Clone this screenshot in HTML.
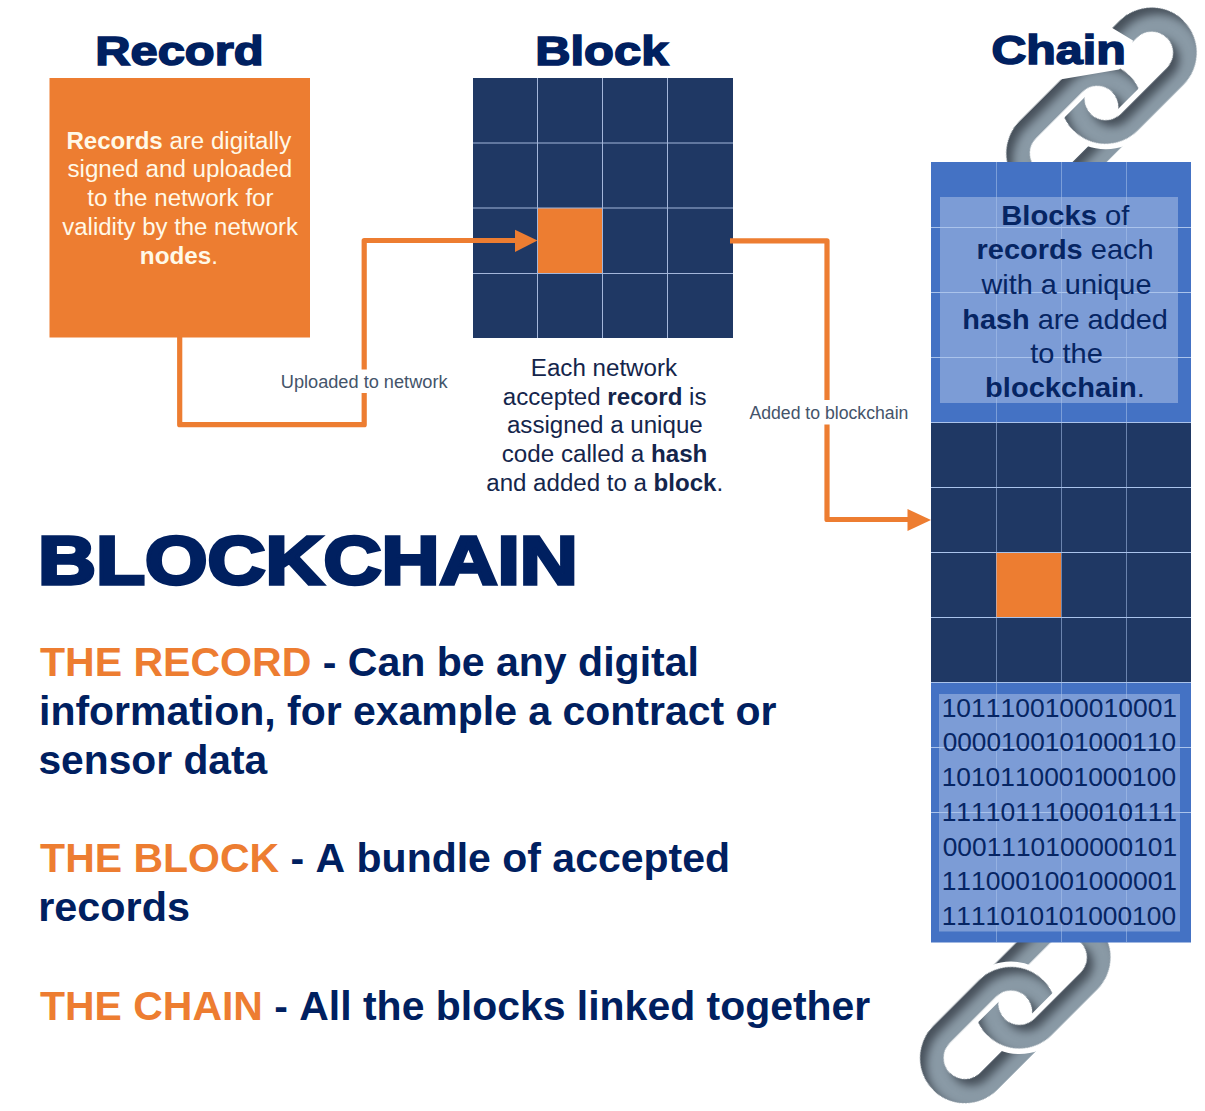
<!DOCTYPE html>
<html><head><meta charset="utf-8">
<style>
html,body{margin:0;padding:0;background:#fff;width:1205px;height:1111px;overflow:hidden}
svg{display:block}
text{font-family:"Liberation Sans",sans-serif;font-kerning:none}
</style></head><body>
<svg width="1205" height="1111" viewBox="0 0 1205 1111">
<defs>
<path id="lkA" d="M712,806.7 L777,806.7 A45,45 0 0 1 777,896.7 L712,896.7 A45,45 0 0 1 712,806.7 Z M712,830.2 L777,830.2 A21.5,21.5 0 0 1 777,873.2 L712,873.2 A21.5,21.5 0 0 1 712,830.2 Z" fill-rule="evenodd"/>
<path id="lkB" d="M635,806.7 L700,806.7 A45,45 0 0 1 700,896.7 L635,896.7 A45,45 0 0 1 635,806.7 Z M635,830.2 L700,830.2 A21.5,21.5 0 0 1 700,873.2 L635,873.2 A21.5,21.5 0 0 1 635,830.2 Z" fill-rule="evenodd"/>
<filter id="sh" x="-30%" y="-30%" width="160%" height="160%" color-interpolation-filters="sRGB">
 <feOffset in="SourceAlpha" dx="0" dy="9" result="off"/>
 <feGaussianBlur in="off" stdDeviation="4.5" result="blur"/>
 <feComposite in="SourceAlpha" in2="blur" operator="out" result="inv"/>
 <feFlood flood-color="#3F4852" flood-opacity="0.9"/>
 <feComposite in2="inv" operator="in" result="shadow"/>
 <feMerge><feMergeNode in="SourceGraphic"/><feMergeNode in="shadow"/></feMerge>
</filter>
<mask id="mTop" maskUnits="userSpaceOnUse" x="400" y="600" width="600" height="500"><rect x="400" y="600" width="600" height="251.70000000000005" fill="#fff"/></mask>
<mask id="mBot" maskUnits="userSpaceOnUse" x="400" y="600" width="600" height="500"><rect x="400" y="851.7" width="600" height="400" fill="#fff"/></mask>
<g id="chainG" transform="matrix(0.70711 -0.70711 0.70711 0.70711 0 0)">
 <use href="#lkB" fill="#8A9AA6" filter="url(#sh)"/>
 <use href="#lkA" fill="#8A9AA6" filter="url(#sh)"/>
 <g mask="url(#mBot)">
  <use href="#lkB" fill="#8A9AA6" filter="url(#sh)"/>
  <use href="#lkA" fill="none" stroke="#fff" stroke-width="11.0"/>
  <use href="#lkA" fill="#8A9AA6" filter="url(#sh)"/>
 </g>
 <g mask="url(#mTop)">
  <use href="#lkA" fill="#8A9AA6" filter="url(#sh)"/>
  <use href="#lkB" fill="none" stroke="#fff" stroke-width="11.0"/>
  <use href="#lkB" fill="#8A9AA6" filter="url(#sh)"/>
 </g>
</g>
</defs>
<use href="#chainG"/>
<polygon points="1111.5,27.5 1133,40.5 1128,62 1119,69.5 1060,79.5 1045,79 1045,22 1100,18" fill="#fff"/>
<use href="#chainG" transform="translate(-86.2 904.7)"/>
<rect x="49.5" y="78" width="260.5" height="259.5" fill="#ED7D31"/>
<rect x="473" y="78" width="260" height="260" fill="#1F3864"/>
<rect x="538" y="208" width="65" height="65" fill="#ED7D31"/>
<g stroke="#A3B6DA" stroke-width="1">
<line x1="537.5" y1="78" x2="537.5" y2="338"/>
<line x1="602.5" y1="78" x2="602.5" y2="338"/>
<line x1="667.5" y1="78" x2="667.5" y2="338"/>
<line x1="473" y1="143" x2="733" y2="143"/>
<line x1="473" y1="208" x2="733" y2="208"/>
<line x1="473" y1="273.5" x2="733" y2="273.5"/>
</g>
<rect x="931" y="162" width="260" height="260" fill="#4472C4"/>
<rect x="931" y="422" width="260" height="260" fill="#1F3864"/>
<rect x="931" y="682" width="260" height="260.5" fill="#4472C4"/>
<rect x="996" y="552" width="65" height="65" fill="#ED7D31"/>

<rect x="940" y="197" width="238" height="206" fill="#fff" fill-opacity="0.3"/>
<rect x="939" y="694" width="241" height="237.5" fill="#fff" fill-opacity="0.3"/>
<g stroke="#AAC3EB" stroke-width="1" stroke-opacity="0.55">
<line x1="996.5" y1="162" x2="996.5" y2="942"/>
<line x1="1061.5" y1="162" x2="1061.5" y2="942"/>
<line x1="1126.5" y1="162" x2="1126.5" y2="942"/>
</g>
<g stroke="#AAC3EB" stroke-width="1">
<line x1="931" y1="227.5" x2="1191" y2="227.5"/>
<line x1="931" y1="292.5" x2="1191" y2="292.5"/>
<line x1="931" y1="357.5" x2="1191" y2="357.5"/>
<line x1="931" y1="422.5" x2="1191" y2="422.5"/>
<line x1="931" y1="487.5" x2="1191" y2="487.5"/>
<line x1="931" y1="552.5" x2="1191" y2="552.5"/>
<line x1="931" y1="617.5" x2="1191" y2="617.5"/>
<line x1="931" y1="682.5" x2="1191" y2="682.5"/>
<line x1="931" y1="747.5" x2="1191" y2="747.5"/>
<line x1="931" y1="812.5" x2="1191" y2="812.5"/>
</g>
<g fill="none" stroke="#ED7D31" stroke-width="5.2" stroke-linejoin="round">
<path d="M179.7,337 V424.7 H364.2 V240.5 H516"/>
<path d="M730,240.8 H827 V519.5 H909"/>
</g>
<polygon points="515,229.7 537.5,240.5 515,252" fill="#ED7D31"/>
<polygon points="907.5,508.9 931,520 907.5,531" fill="#ED7D31"/>
<rect x="276" y="369.5" width="176" height="23.5" fill="#fff"/>
<rect x="744" y="400" width="170" height="24.5" fill="#fff"/>
<text x="95.17" y="64.8" font-size="41.5" font-weight="bold" fill="#002060" textLength="168.45" lengthAdjust="spacingAndGlyphs" stroke="#002060" stroke-width="1.6" stroke-linejoin="miter">Record</text>
<text x="535.16" y="65.0" font-size="41.5" font-weight="bold" fill="#002060" textLength="133.26" lengthAdjust="spacingAndGlyphs" stroke="#002060" stroke-width="1.6" stroke-linejoin="miter">Block</text>
<text x="991.47" y="63.6" font-size="41.5" font-weight="bold" fill="#002060" textLength="134.18" lengthAdjust="spacingAndGlyphs" stroke="#002060" stroke-width="1.6" stroke-linejoin="miter">Chain</text>
<text x="66.41" y="148.8" font-size="23" font-weight="normal" fill="#FFF9E8" textLength="224.86" lengthAdjust="spacingAndGlyphs"><tspan font-weight="bold">Records</tspan> are digitally</text>
<text x="67.45" y="177.4" font-size="23" font-weight="normal" fill="#FFF9E8" textLength="224.73" lengthAdjust="spacingAndGlyphs">signed and uploaded</text>
<text x="87.2" y="206.3" font-size="23" font-weight="normal" fill="#FFF9E8" textLength="186.34" lengthAdjust="spacingAndGlyphs">to the network for</text>
<text x="62.3" y="235.3" font-size="23" font-weight="normal" fill="#FFF9E8" textLength="235.69" lengthAdjust="spacingAndGlyphs">validity by the network</text>
<text x="139.89" y="264.4" font-size="23" font-weight="normal" fill="#FFF9E8" textLength="78.15" lengthAdjust="spacingAndGlyphs"><tspan font-weight="bold">nodes</tspan>.</text>
<text x="530.8" y="376.0" font-size="23" font-weight="normal" fill="#14254B" textLength="146.28" lengthAdjust="spacingAndGlyphs">Each network</text>
<text x="502.85" y="404.6" font-size="23" font-weight="normal" fill="#14254B" textLength="203.66" lengthAdjust="spacingAndGlyphs">accepted <tspan font-weight="bold">record</tspan> is</text>
<text x="506.95" y="433.2" font-size="23" font-weight="normal" fill="#14254B" textLength="195.8" lengthAdjust="spacingAndGlyphs">assigned a unique</text>
<text x="501.75" y="462.0" font-size="23" font-weight="normal" fill="#14254B" textLength="205.66" lengthAdjust="spacingAndGlyphs">code called a <tspan font-weight="bold">hash</tspan></text>
<text x="486.25" y="490.8" font-size="23" font-weight="normal" fill="#14254B" textLength="236.9" lengthAdjust="spacingAndGlyphs">and added to a <tspan font-weight="bold">block</tspan>.</text>
<text x="1001.32" y="225.3" font-size="28" font-weight="normal" fill="#062563" textLength="128.05" lengthAdjust="spacingAndGlyphs"><tspan font-weight="bold">Blocks</tspan> of</text>
<text x="976.53" y="258.9" font-size="28" font-weight="normal" fill="#062563" textLength="177.03" lengthAdjust="spacingAndGlyphs"><tspan font-weight="bold">records</tspan> each</text>
<text x="981.5" y="294.0" font-size="28" font-weight="normal" fill="#062563" textLength="169.95" lengthAdjust="spacingAndGlyphs">with a unique</text>
<text x="962.24" y="328.5" font-size="28" font-weight="normal" fill="#062563" textLength="205.65" lengthAdjust="spacingAndGlyphs"><tspan font-weight="bold">hash</tspan> are added</text>
<text x="1030.2" y="362.9" font-size="28" font-weight="normal" fill="#062563" textLength="72.6" lengthAdjust="spacingAndGlyphs">to the</text>
<text x="985.13" y="397.3" font-size="28" font-weight="normal" fill="#062563" textLength="159.8" lengthAdjust="spacingAndGlyphs"><tspan font-weight="bold">blockchain</tspan>.</text>
<text x="280.76" y="387.6" font-size="17.5" font-weight="normal" fill="#44546A" textLength="166.79" lengthAdjust="spacingAndGlyphs">Uploaded to network</text>
<text x="749.4" y="418.7" font-size="17.5" font-weight="normal" fill="#44546A" textLength="159.03" lengthAdjust="spacingAndGlyphs">Added to blockchain</text>
<text x="37.98" y="584.3" font-size="69" font-weight="bold" fill="#002060" textLength="539.8" lengthAdjust="spacingAndGlyphs" stroke="#002060" stroke-width="3.4" stroke-linejoin="miter">BLOCKCHAIN</text>
<text x="40.0" y="675.5" font-size="41.5" font-weight="bold" fill="#002060" textLength="658.95" lengthAdjust="spacingAndGlyphs"><tspan fill="#ED7D31">THE RECORD</tspan> - Can be any digital</text>
<text x="39.04" y="724.7" font-size="41.5" font-weight="bold" fill="#002060" textLength="737.42" lengthAdjust="spacingAndGlyphs">information, for example a contract or</text>
<text x="38.44" y="774" font-size="41.5" font-weight="bold" fill="#002060" textLength="228.82" lengthAdjust="spacingAndGlyphs">sensor data</text>
<text x="40.1" y="871.9" font-size="41.5" font-weight="bold" fill="#002060" textLength="689.99" lengthAdjust="spacingAndGlyphs"><tspan fill="#ED7D31">THE BLOCK</tspan> - A bundle of accepted</text>
<text x="38.21" y="920.8" font-size="41.5" font-weight="bold" fill="#002060" textLength="151.74" lengthAdjust="spacingAndGlyphs">records</text>
<text x="40.0" y="1019.5" font-size="41.5" font-weight="bold" fill="#002060" textLength="830.32" lengthAdjust="spacingAndGlyphs"><tspan fill="#ED7D31">THE CHAIN</tspan> - All the blocks linked together</text>
<text x="941.66" y="717" font-size="26" font-weight="normal" fill="#062563" textLength="235.42" lengthAdjust="spacingAndGlyphs">1011100100010001</text>
<text x="942.69" y="751.4" font-size="26" font-weight="normal" fill="#062563" textLength="233.37" lengthAdjust="spacingAndGlyphs">0000100101000110</text>
<text x="941.67" y="786.3" font-size="26" font-weight="normal" fill="#062563" textLength="234.39" lengthAdjust="spacingAndGlyphs">1010110001000100</text>
<text x="941.66" y="820.9" font-size="26" font-weight="normal" fill="#062563" textLength="235.42" lengthAdjust="spacingAndGlyphs">1111011100010111</text>
<text x="942.69" y="855.6" font-size="26" font-weight="normal" fill="#062563" textLength="234.39" lengthAdjust="spacingAndGlyphs">0001110100000101</text>
<text x="941.66" y="890.3" font-size="26" font-weight="normal" fill="#062563" textLength="235.42" lengthAdjust="spacingAndGlyphs">1110001001000001</text>
<text x="941.67" y="925.2" font-size="26" font-weight="normal" fill="#062563" textLength="234.39" lengthAdjust="spacingAndGlyphs">1111010101000100</text>
</svg>
</body></html>
